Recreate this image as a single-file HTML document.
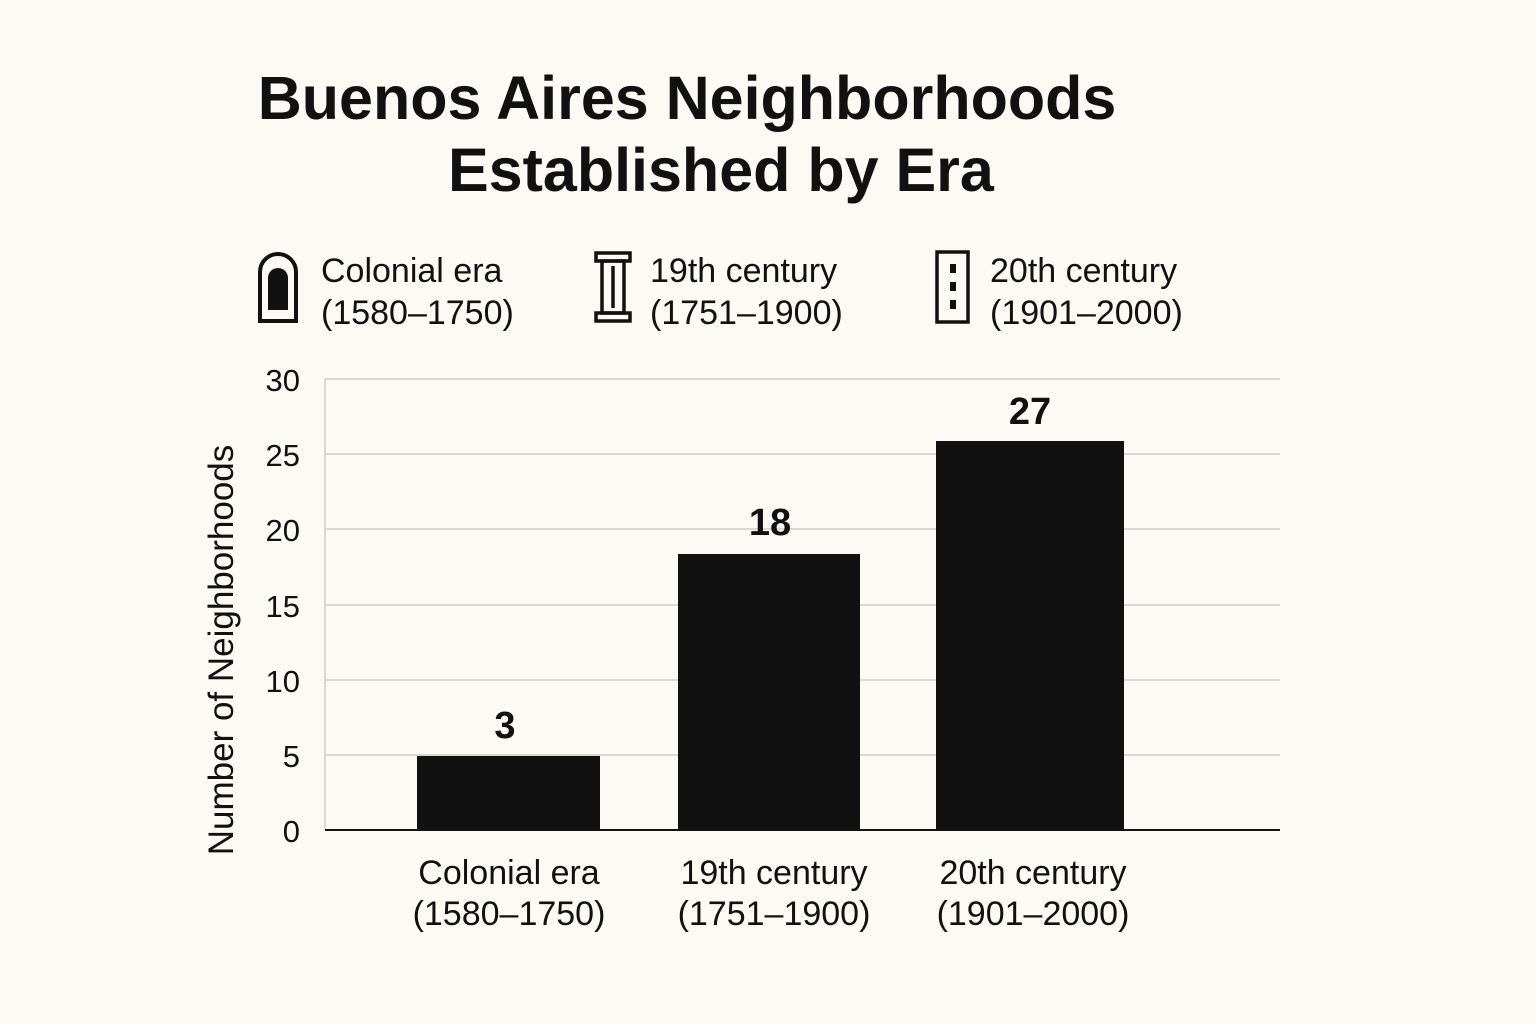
<!DOCTYPE html>
<html><head><style>
body{margin:0;width:1536px;height:1024px;background:#fbfaf5;font-family:"Liberation Sans",sans-serif;color:#111;position:relative;overflow:hidden}
.a{position:absolute;white-space:nowrap}
.t{font-weight:bold;font-size:61px}
.lg{font-size:34px;line-height:42px}
.tk{font-size:31px;text-align:right;width:60px}
.xl{font-size:34px;line-height:41px;text-align:center;width:300px}
.v{font-size:38px;font-weight:bold;text-align:center;width:120px}
</style></head><body>
<div class="a t" style="left:257px;top:63px;width:860px;text-align:center">Buenos Aires Neighborhoods</div>
<div class="a t" style="left:448px;top:135px;width:535px;text-align:center">Established by Era</div>

<svg class="a" style="left:0;top:0" width="1536" height="1024">
<g fill="none" stroke="#111" stroke-width="4">
<path d="M260 321 V272 A18 18 0 0 1 296 272 V321 Z"/>
</g>
<path d="M268 310 V278 A10 10 0 0 1 288 278 V310 Z" fill="#111"/>
<g fill="none" stroke="#111" stroke-width="3.5">
<rect x="596" y="253" width="34" height="8"/>
<rect x="602" y="261" width="22" height="52"/>
<line x1="613" y1="266" x2="613" y2="308"/>
<rect x="596" y="313" width="34" height="8"/>
<rect x="937" y="252" width="31" height="70"/>
</g>
<rect x="950" y="264" width="6" height="9" fill="#111"/>
<rect x="950" y="282" width="6" height="9" fill="#111"/>
<rect x="950" y="300" width="6" height="9" fill="#111"/>
<g stroke="#ccc" stroke-width="1.5">
<line x1="325" y1="379" x2="1280" y2="379"/>
<line x1="325" y1="454" x2="1280" y2="454"/>
<line x1="325" y1="529" x2="1280" y2="529"/>
<line x1="325" y1="605" x2="1280" y2="605"/>
<line x1="325" y1="680" x2="1280" y2="680"/>
<line x1="325" y1="755" x2="1280" y2="755"/>
</g>
<line x1="325" y1="379" x2="325" y2="830" stroke="#ccc" stroke-width="1.5"/>
<rect x="417" y="756" width="183" height="74" fill="#111"/>
<rect x="678" y="554" width="182" height="276" fill="#111"/>
<rect x="936" y="441" width="188" height="389" fill="#111"/>
<line x1="325" y1="830" x2="1280" y2="830" stroke="#111" stroke-width="2"/>
</svg>

<div class="a lg" style="left:321px;top:250px">Colonial era<br>(1580–1750)</div>
<div class="a lg" style="left:650px;top:250px">19th century<br>(1751–1900)</div>
<div class="a lg" style="left:990px;top:250px">20th century<br>(1901–2000)</div>

<div class="a tk" style="left:240px;top:363px">30</div>
<div class="a tk" style="left:240px;top:438px">25</div>
<div class="a tk" style="left:240px;top:513px">20</div>
<div class="a tk" style="left:240px;top:589px">15</div>
<div class="a tk" style="left:240px;top:664px">10</div>
<div class="a tk" style="left:240px;top:739px">5</div>
<div class="a tk" style="left:240px;top:814px">0</div>

<div class="a" style="left:222px;top:650px;font-size:35px;transform:translate(-50%,-50%) rotate(-90deg)">Number of Neighborhoods</div>

<div class="a v" style="left:445px;top:705px">3</div>
<div class="a v" style="left:710px;top:502px">18</div>
<div class="a v" style="left:970px;top:391px">27</div>

<div class="a xl" style="left:359px;top:853px">Colonial era<br>(1580–1750)</div>
<div class="a xl" style="left:624px;top:853px">19th century<br>(1751–1900)</div>
<div class="a xl" style="left:883px;top:853px">20th century<br>(1901–2000)</div>
</body></html>
